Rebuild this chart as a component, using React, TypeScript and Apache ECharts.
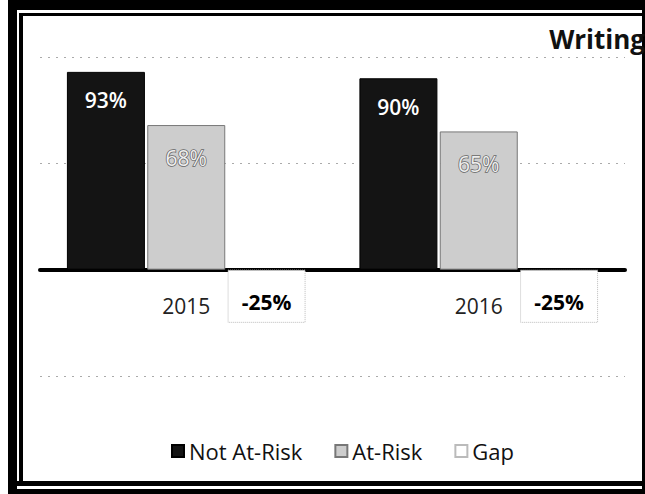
import React, { useEffect, useRef } from "react";
import * as echarts from "echarts";

const categories = ["2015", "2016"];
const notAtRisk = [93, 90];
const atRisk = [68, 65];
const gap = [-25, -25];
const yMin = -50;
const yMax = 100;
const yStep = 50;
const titleText = "Writing";
const legendNames = ["Not At-Risk", "At-Risk", "Gap"];

export default function App() {
  const ref = useRef<HTMLDivElement>(null);
  useEffect(() => {
    const chart = echarts.init(ref.current!, null, { renderer: "svg" });
    const font = "'Open Sans', 'Noto Sans', sans-serif";
    chart.setOption({
      animation: false,
      backgroundColor: "#fff",
      textStyle: { fontFamily: font },
      title: {
        text: titleText,
        right: -5,
        top: 21,
        textStyle: { fontSize: 26, fontWeight: "bold", color: "#111", fontFamily: font },
      },
      grid: { left: 40, right: 20, top: 57, bottom: 118 },
      legend: {
        top: 435,
        left: 166,
        itemWidth: 12,
        itemHeight: 12,
        itemGap: 32,
        textStyle: { fontSize: 22, color: "#111", fontFamily: font },
        data: [
          { name: legendNames[0], icon: "rect" },
          { name: legendNames[1], icon: "rect" },
          { name: legendNames[2], icon: "rect" },
        ],
      },
      xAxis: {
        type: "category",
        data: categories,
        axisLine: { onZero: true, lineStyle: { color: "#000", width: 4 } },
        axisTick: { show: false },
        axisLabel: { margin: -81, fontSize: 21, color: "#222", fontFamily: font },
      },
      yAxis: {
        type: "value",
        min: yMin,
        max: yMax,
        interval: yStep,
        axisLabel: { show: false },
        axisLine: { show: false },
        axisTick: { show: false },
        splitLine: { lineStyle: { type: [2, 6], color: "#aaa", width: 1 } },
      },
      series: [
        {
          name: legendNames[0],
          type: "bar",
          data: notAtRisk,
          barWidth: 78,
          barGap: "3%",
          itemStyle: { color: "#141414", borderColor: "#000", borderWidth: 1 },
          label: {
            show: true,
            position: "insideTop",
            distance: 18,
            formatter: "{c}%",
            color: "#fff",
            fontWeight: 600,
            fontSize: 21,
            fontFamily: font,
          },
        },
        {
          name: legendNames[1],
          type: "bar",
          data: atRisk,
          barWidth: 78,
          barGap: "3%",
          itemStyle: { color: "#cdcdcd", borderColor: "#777", borderWidth: 1 },
          label: {
            show: true,
            position: "insideTop",
            distance: 22,
            formatter: "{c}%",
            color: "#eee",
            textBorderColor: "#666",
            textBorderWidth: 1.5,
            fontSize: 21,
            fontFamily: font,
          },
        },
        {
          name: legendNames[2],
          type: "bar",
          data: gap,
          barWidth: 78,
          barGap: "3%",
          itemStyle: { color: "#fff", borderColor: "#bbb", borderWidth: 1, borderType: "dotted" },
          label: {
            show: true,
            position: "inside",
            offset: [0, 6],
            formatter: "{c}%",
            color: "#000",
            fontWeight: "bold",
            fontSize: 21,
            fontFamily: font,
          },
        },
      ],
      graphic: [
        { type: "rect", shape: { x: 8, y: 0, width: 9, height: 494 }, style: { fill: "#000" }, silent: true },
        { type: "rect", shape: { x: 8, y: 0, width: 637, height: 10 }, style: { fill: "#000" }, silent: true },
        { type: "rect", shape: { x: 19, y: 13, width: 4, height: 470 }, style: { fill: "#000" }, silent: true },
        { type: "rect", shape: { x: 19, y: 13, width: 626, height: 3 }, style: { fill: "#000" }, silent: true },
        { type: "rect", shape: { x: 642, y: 0, width: 3, height: 494 }, style: { fill: "#000" }, silent: true },
        { type: "rect", shape: { x: 8, y: 481, width: 637, height: 5 }, style: { fill: "#000" }, silent: true },
        { type: "rect", shape: { x: 8, y: 489, width: 637, height: 5 }, style: { fill: "#000" }, silent: true },
      ],
    });
    return () => chart.dispose();
  }, []);
  return (
    <div
      ref={ref}
      style={{ position: "fixed", left: 0, top: 0, width: 645, height: 494 }}
    />
  );
}
